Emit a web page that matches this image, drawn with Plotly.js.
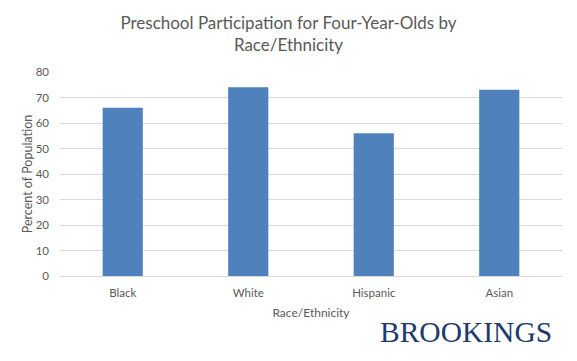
<!DOCTYPE html>
<html><head><meta charset="utf-8">
<script src="https://cdn.plot.ly/plotly-3.0.1.min.js"></script>
<style>html,body{margin:0;padding:0;background:#fff}#chart{width:577px;height:361px}</style>
</head><body><div id="chart"></div>
<script>
const categories = ["Black", "White", "Hispanic", "Asian"];
const values = [66, 74, 56, 73];
const yTicks = [0, 10, 20, 30, 40, 50, 60, 70, 80];

const font = "Lato, 'Open Sans', sans-serif";
const trace = {
  type: "bar", x: categories, y: values,
  marker: {color: "#4f81bd"}, hoverinfo: "none"
};
const layout = {
  width: 577, height: 361,
  margin: {l: 60, r: 15, t: 72, b: 85},
  paper_bgcolor: "#fff", plot_bgcolor: "#fff",
  bargap: 0.68, showlegend: false,
  font: {family: font, color: "#595959", size: 12},
  title: {text: "Preschool Participation for Four-Year-Olds by<br>Race/Ethnicity",
    font: {family: font, size: 17, color: "#595959"}, x: 0.5, xanchor: "center",
    yref: "container", y: 0.92, yanchor: "middle"},
  xaxis: {showgrid: false, showline: true, linecolor: "#d9d9d9", linewidth: 1,
    ticks: "", ticklabelstandoff: 6, tickfont: {size: 11.5, color: "#595959"},
    title: {text: "Race/Ethnicity", font: {size: 12, color: "#595959"}, standoff: 10}},
  yaxis: {range: [0, 80], tickvals: yTicks, showgrid: true, gridcolor: "#d9d9d9", gridwidth: 1,
    zeroline: false, showline: false, ticks: "", ticklabelstandoff: 10,
    tickfont: {size: 11.5, color: "#595959"},
    title: {text: "Percent of Population", font: {size: 12.5, color: "#595959"}, standoff: 0}},
  annotations: [{text: "BROOKINGS", xref: "paper", yref: "paper", x: 0.985, y: -0.275,
    xanchor: "right", yanchor: "middle", showarrow: false,
    font: {family: "'Liberation Serif', 'DejaVu Serif', serif", size: 29.5, color: "#1d3b6c"}}]
};
Plotly.newPlot("chart", [trace], layout, {displayModeBar: false, staticPlot: true});
</script></body></html>
